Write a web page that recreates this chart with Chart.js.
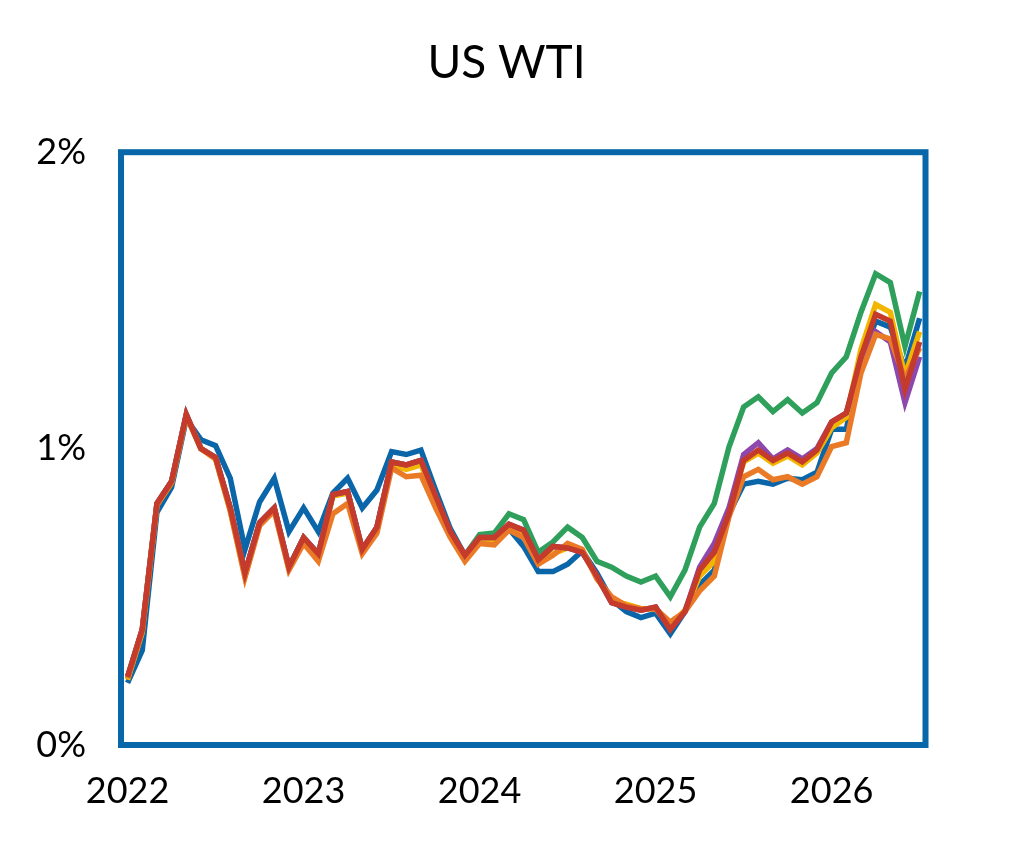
<!DOCTYPE html>
<html>
<head>
<meta charset="utf-8">
<title>US WTI</title>
<script src="https://cdn.jsdelivr.net/npm/chart.js@4.4.1/dist/chart.umd.min.js"></script>
<style>
  html, body { margin: 0; padding: 0; background: #fff; }
  canvas { display: block; }
</style>
</head>
<body>
<canvas id="wti" width="1013" height="845"></canvas>
<script>
// meses de ene-2022 a jul-2026
const months = [];
for (let y = 2022; y <= 2026; y++) {
  for (let m = 1; m <= 12; m++) {
    if (y === 2026 && m > 7) break;
    months.push(y + '-' + String(m).padStart(2, '0'));
  }
}
const yearLabels = ['2022', '2023', '2024', '2025', '2026'];
const yTicks = [0, 1, 2];

// valores (%)
const blueSeries = [
  0.21, 0.32, 0.785, 0.87, 1.10, 1.03, 1.01, 0.90, 0.66, 0.82, 0.90, 0.72,
  0.80, 0.72, 0.85, 0.90, 0.80, 0.86, 0.99, 0.98, 0.995, 0.86, 0.73, 0.64,
  0.70, 0.70, 0.73, 0.67, 0.585, 0.585, 0.61, 0.655, 0.58, 0.49, 0.45, 0.43,
  0.445, 0.375, 0.45, 0.54, 0.59, 0.78, 0.88, 0.89, 0.88, 0.90, 0.895, 0.92,
  1.065, 1.065, 1.30, 1.43, 1.41, 1.27, 1.44
];
const greenSeries = [
  0.23, 0.39, 0.815, 0.89, 1.115, 1.00, 0.97, 0.80, 0.58, 0.75, 0.80, 0.60,
  0.70, 0.645, 0.845, 0.855, 0.66, 0.735, 0.955, 0.945, 0.96, 0.84, 0.72, 0.64,
  0.71, 0.715, 0.78, 0.76, 0.65, 0.685, 0.735, 0.70, 0.62, 0.60, 0.57, 0.55,
  0.57, 0.50, 0.59, 0.735, 0.815, 1.005, 1.14, 1.175, 1.125, 1.165, 1.12, 1.155,
  1.255, 1.31, 1.46, 1.59, 1.56, 1.345, 1.53
];
const yellowSeries = [
  0.22, 0.38, 0.81, 0.885, 1.11, 1.00, 0.965, 0.79, 0.57, 0.745, 0.795, 0.595,
  0.695, 0.635, 0.84, 0.85, 0.655, 0.73, 0.945, 0.93, 0.945, 0.83, 0.71, 0.63,
  0.69, 0.69, 0.735, 0.715, 0.615, 0.645, 0.665, 0.655, 0.565, 0.485, 0.475, 0.46,
  0.46, 0.40, 0.455, 0.57, 0.62, 0.78, 0.955, 0.985, 0.95, 0.975, 0.945, 0.985,
  1.07, 1.105, 1.335, 1.486, 1.46, 1.245, 1.395
];
const purpleSeries = [
  0.23, 0.39, 0.815, 0.89, 1.115, 1.00, 0.97, 0.80, 0.58, 0.75, 0.80, 0.60,
  0.70, 0.645, 0.845, 0.855, 0.66, 0.735, 0.955, 0.945, 0.96, 0.84, 0.72, 0.64,
  0.70, 0.70, 0.745, 0.725, 0.625, 0.67, 0.665, 0.65, 0.57, 0.48, 0.465, 0.455,
  0.465, 0.39, 0.45, 0.60, 0.68, 0.80, 0.98, 1.02, 0.965, 0.995, 0.965, 1.00,
  1.09, 1.12, 1.29, 1.395, 1.36, 1.155, 1.31
];
const orangeSeries = [
  0.225, 0.385, 0.81, 0.885, 1.11, 1.00, 0.965, 0.79, 0.565, 0.74, 0.79, 0.59,
  0.68, 0.62, 0.78, 0.815, 0.645, 0.715, 0.935, 0.905, 0.91, 0.80, 0.70, 0.62,
  0.68, 0.675, 0.725, 0.70, 0.61, 0.64, 0.68, 0.66, 0.56, 0.50, 0.47, 0.46,
  0.46, 0.415, 0.45, 0.52, 0.57, 0.77, 0.905, 0.93, 0.895, 0.905, 0.88, 0.905,
  1.007, 1.02, 1.255, 1.385, 1.37, 1.235, 1.34
];
const redSeries = [
  0.23, 0.39, 0.815, 0.89, 1.115, 1.00, 0.97, 0.80, 0.58, 0.75, 0.80, 0.60,
  0.70, 0.645, 0.845, 0.855, 0.66, 0.735, 0.955, 0.945, 0.96, 0.84, 0.72, 0.64,
  0.70, 0.70, 0.745, 0.725, 0.625, 0.67, 0.665, 0.65, 0.57, 0.48, 0.465, 0.455,
  0.465, 0.39, 0.45, 0.59, 0.65, 0.78, 0.96, 0.995, 0.96, 0.985, 0.955, 0.995,
  1.09, 1.12, 1.31, 1.453, 1.43, 1.20, 1.36
];

const FONT = 'Lato, "DejaVu Sans", sans-serif';
const BOX_COLOR = '#0767A8';

// el primer dataset se dibuja encima
const series = [
  { label: 'Rojo', data: redSeries, color: '#C43B2B' },
  { label: 'Naranja', data: orangeSeries, color: '#EB7A27' },
  { label: 'Morado', data: purpleSeries, color: '#8E47AD' },
  { label: 'Amarillo', data: yellowSeries, color: '#F2B600' },
  { label: 'Verde', data: greenSeries, color: '#2FA05B' },
  { label: 'Azul', data: blueSeries, color: '#0A66A8' }
];

// indices de enero para las etiquetas del eje x
const januaryIdx = months.map((m, i) => m.endsWith('-01') ? i : -1).filter(i => i >= 0);

const boxBorder = {
  id: 'boxBorder',
  afterDatasetsDraw(chart) {
    const { ctx, chartArea: a } = chart;
    ctx.save();
    ctx.strokeStyle = BOX_COLOR;
    ctx.lineWidth = 6;
    ctx.lineJoin = 'miter';
    ctx.strokeRect(a.left, a.top, a.right - a.left, a.bottom - a.top);
    ctx.restore();
  }
};

new Chart(document.getElementById('wti'), {
  type: 'line',
  data: {
    datasets: series.map(s => ({
      label: s.label,
      data: s.data.map((v, i) => ({ x: i, y: v })),
      borderColor: s.color,
      backgroundColor: s.color,
      borderWidth: 5.5,
      pointRadius: 0,
      tension: 0,
      fill: false
    }))
  },
  options: {
    responsive: false,
    animation: false,
    devicePixelRatio: 1,
    layout: { padding: 0 },
    plugins: {
      legend: { display: false },
      tooltip: { enabled: false },
      title: {
        display: true,
        text: 'US WTI',
        color: '#000',
        font: { family: FONT, size: 46, weight: 'normal' },
        padding: { top: 36, bottom: 61 }
      }
    },
    scales: {
      x: {
        type: 'linear',
        min: -0.45,
        max: 54.4,
        grid: { display: false, drawTicks: false },
        border: { display: false },
        afterBuildTicks: scale => {
          scale.ticks = januaryIdx.map(i => ({ value: i }));
        },
        afterFit: scale => { scale.height = 100; },
        ticks: {
          color: '#000',
          padding: 25,
          maxRotation: 0,
          autoSkip: false,
          font: { family: FONT, size: 36 },
          callback: v => yearLabels[januaryIdx.indexOf(v)]
        }
      },
      y: {
        min: 0,
        max: 2,
        grid: { display: false, drawTicks: false },
        border: { display: false },
        afterBuildTicks: scale => {
          scale.ticks = yTicks.map(v => ({ value: v }));
        },
        afterFit: scale => { scale.width = 121; },
        ticks: {
          color: '#000',
          padding: 35,
          font: { family: FONT, size: 36 },
          callback: v => v + '%'
        }
      },
      // margen derecho vacio, para que el titulo quede centrado en la pagina
      yRight: {
        position: 'right',
        min: 0,
        max: 2,
        grid: { display: false, drawTicks: false },
        border: { display: false },
        ticks: { display: false },
        afterFit: scale => { scale.width = 87.5; }
      }
    }
  },
  plugins: [boxBorder]
});
</script>
</body>
</html>
